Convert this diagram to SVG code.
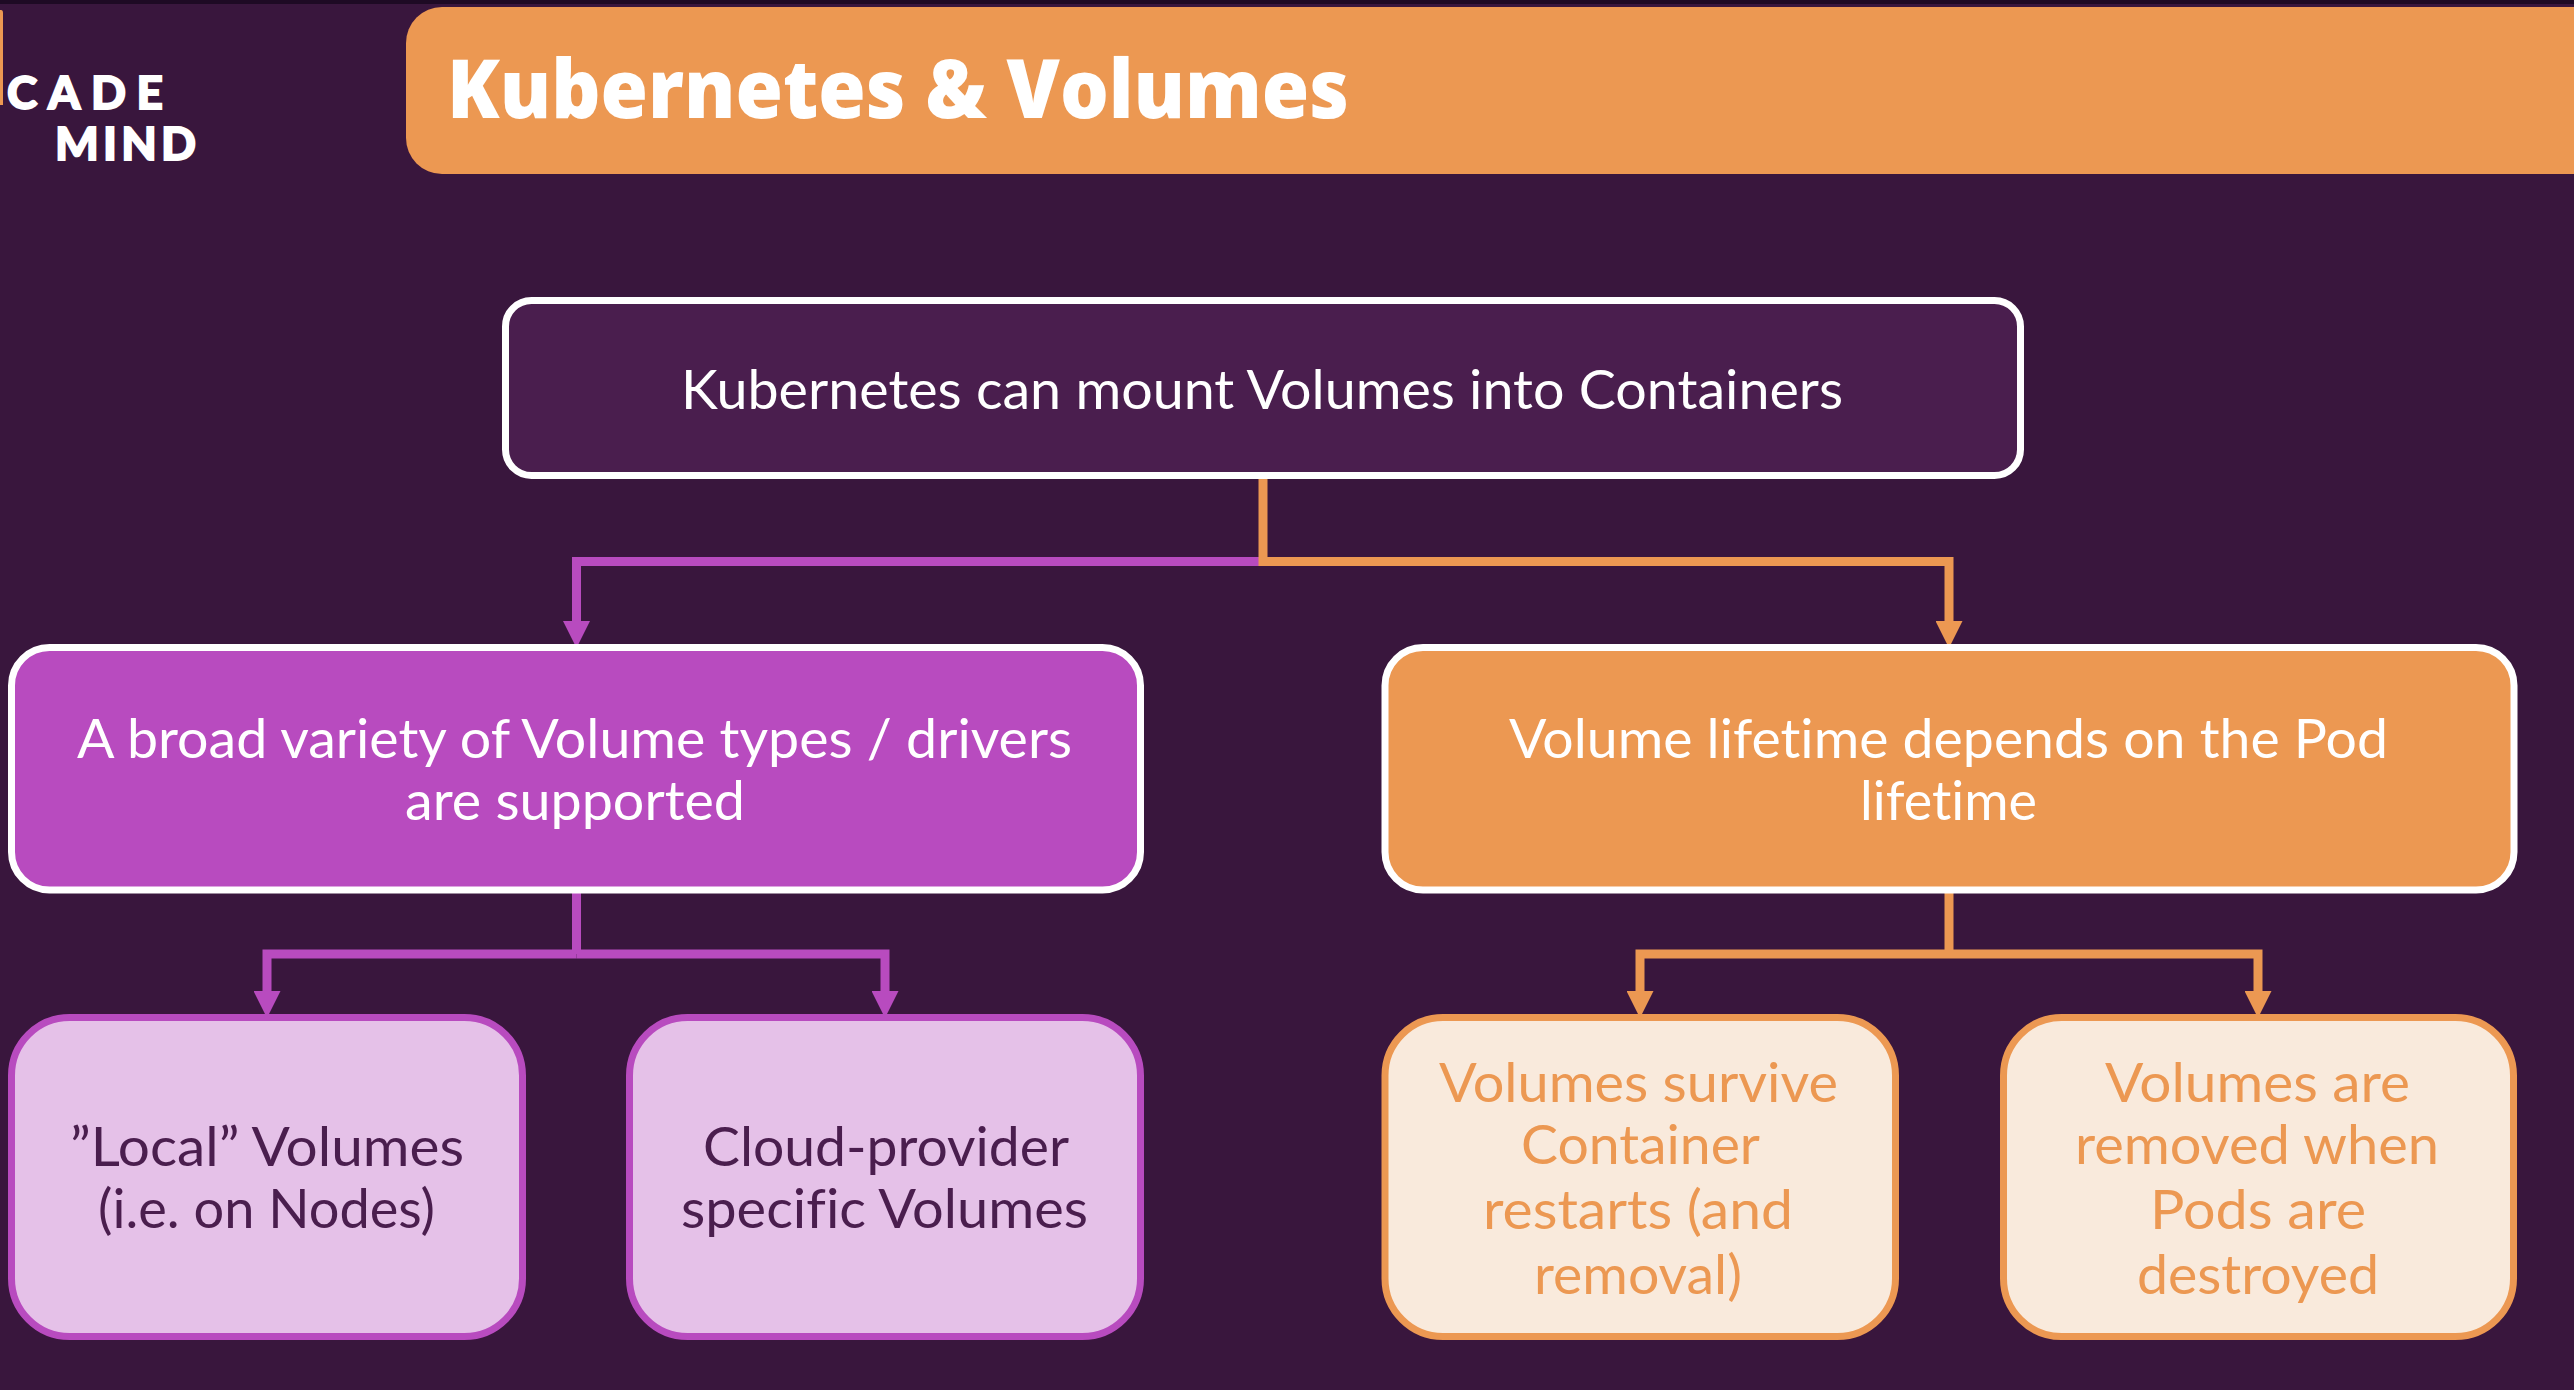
<svg xmlns="http://www.w3.org/2000/svg" width="2574" height="1390" viewBox="0 0 2574 1390">
<defs>
<style>
text{font-family:"Lato","Noto Sans",sans-serif;font-size:54px;font-variant-ligatures:none}
.w{fill:#fff}
.d{fill:#4a1e4e}
.o{fill:#ec9852}
.lg{font-size:46px;font-weight:900;stroke:#fff;stroke-width:1.8}
.conn{fill:none;stroke-width:9}
.p{stroke:#b84bbf}
.q{stroke:#ec9852}
.ah-p{fill:#b84bbf}
.ah-o{fill:#ec9852}
.n0{fill:#4a1e4e;stroke:#fff;stroke-width:7}
.n1{fill:#b84bbf;stroke:#fff;stroke-width:7}
.n2{fill:#ec9852;stroke:#fff;stroke-width:7}
.n3{fill:#e5c1e8;stroke:#b84bbf;stroke-width:7}
.n4{fill:#f9eadc;stroke:#ec9852;stroke-width:7}
</style>
<marker id="mp" markerUnits="userSpaceOnUse" markerWidth="27" markerHeight="27" refX="0" refY="13.5" orient="auto"><path class="ah-p" d="M0 0L27 13.5L0 27Z"/></marker>
<marker id="mo" markerUnits="userSpaceOnUse" markerWidth="27" markerHeight="27" refX="0" refY="13.5" orient="auto"><path class="ah-o" d="M0 0L27 13.5L0 27Z"/></marker>
</defs>
<rect width="2574" height="1390" fill="#39163d"/>
<rect width="2574" height="4" fill="#1e0a24"/>
<g id="logo">
<path class="o" d="M0 10h1a2 3 0 0 1 2 3v92h-3z"/>
<text class="w lg" x="7" y="109" textLength="156">CADE</text>
<text class="w lg" x="55" y="160" textLength="141">MIND</text>
</g>
<g id="title">
<path class="o" d="M2574 7H442a36 36 0 0 0-36 36V138a36 36 0 0 0 36 36H2574Z"/>
<text class="w" x="447" y="118" style="font-family:'Open Sans','Noto Sans',sans-serif;font-size:81px;font-weight:800" textLength="902" lengthAdjust="spacingAndGlyphs">Kubernetes &amp; Volumes</text>
</g>
<g id="connectors">
<path class="conn p" d="M1263 561.500H576.500V621" marker-end="url(#mp)"/>
<path class="conn q" d="M1263 475V561.500H1949V621" marker-end="url(#mo)"/>
<path class="conn p" d="M576.500 890V954M576.500 954H267V991" marker-end="url(#mp)"/>
<path class="conn p" d="M576.500 954H885V991" marker-end="url(#mp)"/>
<path class="conn q" d="M1949 890V954M1949 954H1640V991" marker-end="url(#mo)"/>
<path class="conn q" d="M1949 954H2258V991" marker-end="url(#mo)"/>
</g>
<g id="node-root">
<rect class="n0" x="505.500" y="300.500" width="1515" height="175" rx="26"/>
<text class="w" x="681" y="409" textLength="1162" lengthAdjust="spacingAndGlyphs">Kubernetes can mount Volumes into Containers</text>
</g>
<g id="node-types">
<rect class="n1" x="11.500" y="647.500" width="1129" height="242.500" rx="38"/>
<text class="w" x="77" y="758" textLength="995" lengthAdjust="spacingAndGlyphs">A broad variety of Volume types / drivers</text>
<text class="w" x="405" y="820" textLength="340" lengthAdjust="spacingAndGlyphs">are supported</text>
</g>
<g id="node-lifetime">
<rect class="n2" x="1385" y="647.500" width="1129" height="242.500" rx="38"/>
<text class="w" x="1509" y="758" textLength="879" lengthAdjust="spacingAndGlyphs">Volume lifetime depends on the Pod</text>
<text class="w" x="1860" y="820" textLength="177" lengthAdjust="spacingAndGlyphs">lifetime</text>
</g>
<g id="node-local">
<rect class="n3" x="11.500" y="1017.500" width="511" height="319" rx="58"/>
<text class="d" x="70" y="1166" textLength="394" lengthAdjust="spacingAndGlyphs">”Local” Volumes</text>
<text class="d" x="98" y="1228" textLength="337" lengthAdjust="spacingAndGlyphs">(i.e. on Nodes)</text>
</g>
<g id="node-cloud">
<rect class="n3" x="629.500" y="1017.500" width="511" height="319" rx="58"/>
<text class="d" x="703" y="1166" textLength="366" lengthAdjust="spacingAndGlyphs">Cloud-provider</text>
<text class="d" x="681" y="1228" textLength="407" lengthAdjust="spacingAndGlyphs">specific Volumes</text>
</g>
<g id="node-survive">
<rect class="n4" x="1385" y="1017.500" width="510.500" height="319" rx="58"/>
<text class="o" x="1439" y="1102" textLength="399" lengthAdjust="spacingAndGlyphs">Volumes survive</text>
<text class="o" x="1521" y="1164" textLength="239" lengthAdjust="spacingAndGlyphs">Container</text>
<text class="o" x="1483" y="1229" textLength="310" lengthAdjust="spacingAndGlyphs">restarts (and</text>
<text class="o" x="1534" y="1294" textLength="208" lengthAdjust="spacingAndGlyphs">removal)</text>
</g>
<g id="node-removed">
<rect class="n4" x="2003.500" y="1017.500" width="510" height="319" rx="58"/>
<text class="o" x="2105" y="1102" textLength="305" lengthAdjust="spacingAndGlyphs">Volumes are</text>
<text class="o" x="2075" y="1164" textLength="364" lengthAdjust="spacingAndGlyphs">removed when</text>
<text class="o" x="2150" y="1229" textLength="216" lengthAdjust="spacingAndGlyphs">Pods are</text>
<text class="o" x="2137" y="1294" textLength="242" lengthAdjust="spacingAndGlyphs">destroyed</text>
</g>
</svg>
